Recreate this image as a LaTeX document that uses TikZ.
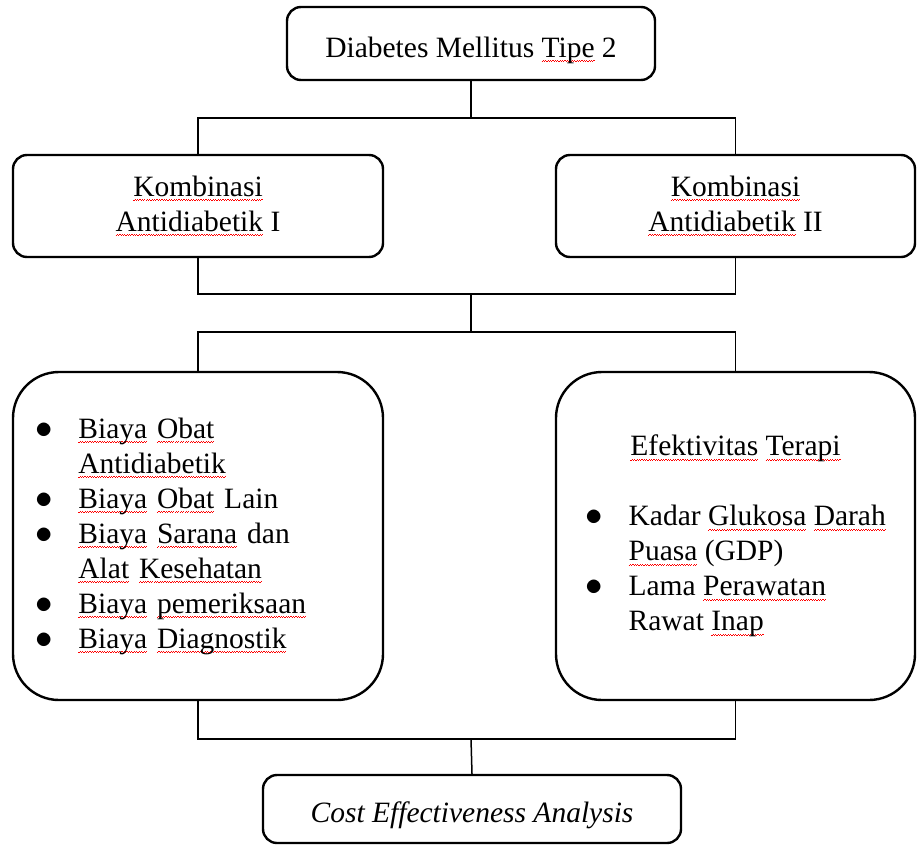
\documentclass[tikz,border=0pt]{standalone}
\usepackage{fontspec}
\setmainfont{Liberation Serif}
\usepackage{tikz}

% red wavy line under a word
\newsavebox{\wordbox}
\newcommand{\wavelet}{\rule[0pt]{1.2pt}{0.8pt}\rule[1.1pt]{1.2pt}{0.8pt}}
\newcommand{\sq}[1]{\sbox{\wordbox}{#1}%
  \rlap{\textcolor{red}{\lower5pt\hbox to\wd\wordbox{\xleaders\hbox{\wavelet}\hfil}}}\usebox{\wordbox}}
\newcommand{\dotmark}{\scalebox{1.4}{$\bullet$}}

\begin{document}
\begin{tikzpicture}[x=1pt,y=-1pt,
    txt/.style={font=\fontsize{29.5}{35}\selectfont},
    box/.style={txt,draw,line width=2.4pt,rounded corners=14pt,align=center},
    bigbox/.style={txt,draw,line width=2.4pt,rounded corners=46pt,minimum width=370pt,minimum height=328pt},
    link/.style={line width=1.5pt}]
\useasboundingbox (0,0) rectangle (917,846);
\node[box,minimum width=368pt,minimum height=73pt,text height=27pt,text depth=0pt] (dm) at (471,43.5) {Diabetes Mellitus \sq{Tipe} 2};
\node[box,minimum width=370pt,minimum height=102pt] (k1) at (198,206) {\sq{Kombinasi}\\\sq{Antidiabetik} I};
\node[box,minimum width=359pt,minimum height=102pt] (k2) at (735.5,206) {\sq{Kombinasi}\\\sq{Antidiabetik} II};
\node[bigbox,text width=326pt,inner xsep=22pt,align=left] (biaya) at (198,536) {%
  \begin{tabular}{@{}l@{\hspace{26pt}}l@{}}
  \dotmark & \sq{Biaya} \sq{Obat}\\
   & \sq{Antidiabetik}\\
  \dotmark & \sq{Biaya} \sq{Obat} Lain\\
  \dotmark & \sq{Biaya} \sq{Sarana} dan\\
   & \sq{Alat} \sq{Kesehatan}\\
  \dotmark & \sq{Biaya} \sq{pemeriksaan}\\
  \dotmark & \sq{Biaya} \sq{Diagnostik}
  \end{tabular}};
\node[bigbox,minimum width=359pt] (efek) at (735.5,536) {%
  \begin{tabular}{@{}l@{\hspace{26pt}}l@{}}
  \multicolumn{2}{c}{\sq{Efektivitas} \sq{Terapi}}\\
   & \\
  \dotmark & Kadar \sq{Glukosa} \sq{Darah}\\
   & \sq{Puasa} (GDP)\\
  \dotmark & Lama \sq{Perawatan}\\
   & Rawat \sq{Inap}
  \end{tabular}};
\node[box,minimum width=418pt,minimum height=68pt,text height=27pt,text depth=0pt] (cea) at (472,809) {\textit{Cost Effectiveness Analysis}};
% joints of the connectors, from the top down
\coordinate (j1) at (471,118);
\coordinate (j2) at (471,294);
\coordinate (j3) at (471,332);
\coordinate (j4) at (471,739);
\draw[link] (dm.south) -- (j1);
\draw[link] (k1.north) |- (j1) -| (k2.north);
\draw[link] (k1.south) |- (j2) -| (k2.south);
\draw[link] (j2) -- (j3);
\draw[link] (biaya.north) |- (j3) -| (efek.north);
\draw[link] (biaya.south) |- (j4) -| (efek.south);
\draw[link] (j4) -- (cea.north);
\end{tikzpicture}
\end{document}
